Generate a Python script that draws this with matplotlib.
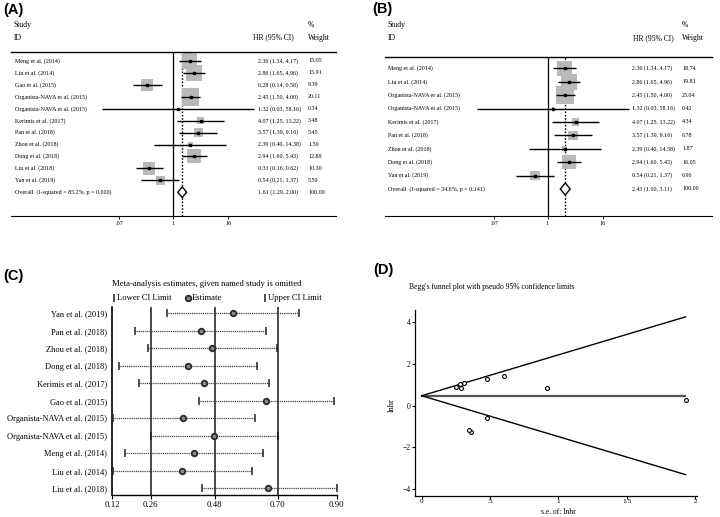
import numpy as np
import matplotlib
matplotlib.use("Agg")
import matplotlib.pyplot as plt
from matplotlib.patches import Polygon
from matplotlib.ticker import NullLocator
from matplotlib.transforms import blended_transform_factory

W, H = 720, 517
plt.rcParams["font.family"] = ["Liberation Serif", "DejaVu Serif"]
SANS = "Liberation Sans"

# ---- panel A: all studies
a_studies = ["Meng et al. (2014)", "Liu et al. (2014)", "Gao et al. (2015)",
             "Organista-NAVA et al. (2015)", "Organista-NAVA et al. (2015)",
             "Kerimis et al. (2017)", "Pan et al. (2018)", "Zhou et al. (2018)",
             "Dong et al. (2018)", "Liu et al. (2018)", "Yan et al. (2019)"]
a_hr = [2.36, 2.86, 0.28, 2.45, 1.32, 4.07, 3.57, 2.39, 2.94, 0.31, 0.54]
a_lo = [1.34, 1.65, 0.14, 1.50, 0.03, 1.25, 1.39, 0.40, 1.60, 0.16, 0.21]
a_hi = [4.17, 4.96, 0.58, 4.00, 58.16, 13.22, 9.16, 14.38, 5.43, 0.62, 1.37]
a_wt = [15.05, 15.91, 9.39, 20.11, 0.34, 3.48, 5.45, 1.50, 12.89, 10.30, 5.59]
a_overall = [1.61, 1.29, 2.00]
a_overall_label = "Overall  (I-squared = 85.2%, p = 0.000)"

# ---- panel B: without Gao 2015 and Liu 2018
b_studies = ["Meng et al. (2014)", "Liu et al. (2014)",
             "Organista-NAVA et al. (2015)", "Organista-NAVA et al. (2015)",
             "Kerimis et al. (2017)", "Pan et al. (2018)", "Zhou et al. (2018)",
             "Dong et al. (2018)", "Yan et al. (2019)"]
b_hr = [2.36, 2.86, 2.45, 1.32, 4.07, 3.57, 2.39, 2.94, 0.54]
b_lo = [1.34, 1.65, 1.50, 0.03, 1.25, 1.39, 0.40, 1.60, 0.21]
b_hi = [4.17, 4.96, 4.00, 58.16, 13.22, 9.16, 14.38, 5.43, 1.37]
b_wt = [18.74, 19.81, 25.04, 0.42, 4.34, 6.78, 1.87, 16.05, 6.96]
b_overall = [2.43, 1.90, 3.11]
b_overall_label = "Overall  (I-squared = 34.6%, p = 0.141)"

forest_ticks = [0.07, 1, 16]
forest_ticklabels = [".07", "1", "16"]

# ---- panel C: leave-one-out (ln HR)
c_studies = ["Yan et al. (2019)", "Pan et al. (2018)", "Zhou et al. (2018)",
             "Dong et al. (2018)", "Kerimis et al. (2017)", "Gao et al. (2015)",
             "Organista-NAVA et al. (2015)", "Organista-NAVA et al. (2015)",
             "Meng et al. (2014)", "Liu et al. (2014)", "Liu et al. (2018)"]
c_est = [0.538, 0.427, 0.467, 0.385, 0.440, 0.653, 0.367, 0.474, 0.404, 0.364, 0.661]
c_lo = [0.310, 0.201, 0.245, 0.147, 0.216, 0.423, 0.124, 0.258, 0.166, 0.126, 0.431]
c_hi = [0.766, 0.653, 0.689, 0.620, 0.664, 0.885, 0.615, 0.695, 0.643, 0.605, 0.896]
c_ticks = [0.123, 0.255, 0.476, 0.693, 0.896]
c_ticklabels = ["0.12", "0.26", "0.48", "0.70", "0.90"]

# ---- panel D: Begg's funnel
d_se = [0.290, 0.281, 0.363, 0.250, 1.931, 0.602, 0.481, 0.914, 0.312, 0.346, 0.479]
d_lnhr = [0.859, 1.051, -1.273, 0.896, 0.278, 1.404, 1.273, 0.871, 1.078, -1.171, -0.616]
d_funnel_se = [0.0, 1.93]
d_pooled = [0.476, 0.476]
d_upper = [0.476, 4.26]
d_lower = [0.476, -3.31]


def pxbox(l, t, r, b):
    return [l / W, 1 - b / H, (r - l) / W, (b - t) / H]


def forest(fig, geo, studies, hr, lo, hi, wt, overall, overall_label):
    l, r, t, b = geo["box"]
    row0, step = geo["row0"], geo["step"]
    ax = fig.add_axes(pxbox(l, t, r, b))
    ax.set_xscale("log")
    ax.set_xlim(np.exp(geo["ln"][0]), np.exp(geo["ln"][1]))
    n = len(studies)
    ys = np.arange(n)
    ax.set_ylim((b - row0) / step, (t - row0) / step)

    side_pt = geo["c"] * np.sqrt(wt) * 72 / 100
    ax.scatter(hr, ys, s=side_pt ** 2, marker="s", color="#b9b9b9", lw=0, zorder=2)
    ax.hlines(ys, lo, hi, color="black", lw=1.0, zorder=3)
    ax.plot(hr, ys, "s", ms=1.6, color="black", zorder=4)
    ax.axvline(1, color="black", lw=0.9, zorder=1)
    est, olo, ohi = overall
    ax.axvline(est, color="black", lw=1.0, ls=(0, (1.2, 1.2)), zorder=1)
    h = 0.45
    ax.add_patch(Polygon([(olo, n), (est, n - h), (ohi, n), (est, n + h)],
                         closed=True, facecolor="white", edgecolor="black", lw=1.0, zorder=5))

    for s in ("left", "right"):
        ax.spines[s].set_visible(False)
    ax.spines["top"].set_linewidth(1.0)
    ax.spines["bottom"].set_linewidth(0.8)
    ax.set_yticks([])
    ax.set_xticks(forest_ticks)
    ax.set_xticklabels(forest_ticklabels)
    ax.xaxis.set_minor_locator(NullLocator())
    ax.tick_params(axis="x", length=2, width=0.6, labelsize=4.5, pad=1.5)

    tr = blended_transform_factory(fig.transFigure, ax.transData)
    xl, xh, xw = geo["cols"]
    fs = 4.3
    for i in range(n):
        ax.text(xl / W, i, studies[i], transform=tr, fontsize=fs, va="center")
        ax.text(xh / W, i, f"{hr[i]:.2f} ({lo[i]:.2f}, {hi[i]:.2f})", transform=tr,
                fontsize=fs, va="center")
        ax.text(xw / W, i, f"{wt[i]:.2f}", transform=tr, fontsize=fs, va="center")
    ax.text(xl / W, n, overall_label, transform=tr, fontsize=fs, va="center")
    ax.text(xh / W, n, f"{est:.2f} ({olo:.2f}, {ohi:.2f})", transform=tr, fontsize=fs, va="center")
    ax.text(xw / W, n, "100.00", transform=tr, fontsize=fs, va="center")

    y_study = (geo["head"][0] - row0) / step
    y_id = (geo["head"][1] - row0) / step
    hs = 5.5
    ax.text(geo["hcols"][0] / W, y_study, "Study", transform=tr, fontsize=hs, va="center")
    ax.text(geo["hcols"][0] / W, y_id, "ID", transform=tr, fontsize=hs, va="center")
    ax.text(geo["hcols"][1] / W, y_id, "HR (95% CI)", transform=tr, fontsize=hs, va="center")
    ax.text(geo["hcols"][2] / W, y_study, "%", transform=tr, fontsize=hs, va="center")
    ax.text(geo["hcols"][2] / W, y_id, "Weight", transform=tr, fontsize=hs, va="center")
    return ax


fig = plt.figure(figsize=(7.2, 5.17), dpi=100)

geo_a = dict(box=(11, 336, 52.3, 216), row0=61, step=11.93, ln=(-8.065, 8.145),
             c=3.9, cols=(15, 258, 308), hcols=(14, 253, 308), head=(25, 37.5))
forest(fig, geo_a, a_studies, a_hr, a_lo, a_hi, a_wt, a_overall, a_overall_label)

geo_b = dict(box=(385, 712, 56.7, 215.7), row0=68.3, step=13.41, ln=(-8.125, 8.225),
             c=3.6, cols=(388, 632, 682), hcols=(388, 633, 682), head=(25, 38.3))
forest(fig, geo_b, b_studies, b_hr, b_lo, b_hi, b_wt, b_overall, b_overall_label)

# ---- panel C
axc = fig.add_axes(pxbox(112.3, 307, 336.7, 495))
ys = np.arange(len(c_studies))
axc.set_xlim(c_ticks[0], c_ticks[-1])
axc.set_ylim((495 - 313.3) / 17.5, (307 - 313.3) / 17.5)
for x in c_ticks[1:4]:
    axc.axvline(x, color="#2b2b2b", lw=1.2, zorder=1)
axc.hlines(ys, c_lo, c_hi, colors="#333333", lw=0.9, linestyles=(0, (0.8, 0.7)), zorder=2)
axc.plot(c_lo, ys, "|", ms=6, mew=1.1, color="#222222", zorder=3, clip_on=False)
axc.plot(c_hi, ys, "|", ms=6, mew=1.1, color="#222222", zorder=3, clip_on=False)
axc.plot(c_est, ys, "o", ms=4.0, mfc="#8a8a8a", mec="#2b2b2b", mew=1.3, zorder=4, clip_on=False)
for s in ("top", "right"):
    axc.spines[s].set_visible(False)
axc.spines["left"].set_linewidth(1.2)
axc.spines["bottom"].set_linewidth(1.0)
axc.set_yticks(ys)
axc.set_yticklabels(c_studies)
axc.tick_params(axis="y", length=0, pad=3.6, labelsize=6.0)
axc.set_xticks(c_ticks)
axc.set_xticklabels(c_ticklabels)
axc.tick_params(axis="x", length=3, width=0.8, labelsize=6.3, pad=1.5)

trc = blended_transform_factory(fig.transFigure, axc.transData)
y_leg = (298.3 - 313.3) / 17.5
fig.text(207 / W, 1 - 284 / H, "Meta-analysis estimates, given named study is omitted",
         fontsize=6.2, ha="center", va="center")
axc.plot([113.5 / W], [y_leg], "|", ms=6, mew=1.1, color="#222222", transform=trc, clip_on=False)
axc.text(117 / W, y_leg, "Lower CI Limit", transform=trc, fontsize=6.2, va="center")
axc.plot([188 / W], [y_leg], "o", ms=4.0, mfc="#8a8a8a", mec="#2b2b2b", mew=1.3,
         transform=trc, clip_on=False)
axc.text(191.5 / W, y_leg, "Estimate", transform=trc, fontsize=6.2, va="center")
axc.plot([264.5 / W], [y_leg], "|", ms=6, mew=1.1, color="#222222", transform=trc, clip_on=False)
axc.text(267.5 / W, y_leg, "Upper CI Limit", transform=trc, fontsize=6.2, va="center")

# ---- panel D
axd = fig.add_axes(pxbox(415, 310, 696.7, 496))
axd.set_xlim(-0.049, 2.012)
axd.set_ylim(-4.335, 4.59)
axd.plot(d_funnel_se, d_pooled, color="#555555", lw=1.6, zorder=1)
axd.plot(d_funnel_se, d_upper, color="black", lw=1.0, zorder=2)
axd.plot(d_funnel_se, d_lower, color="black", lw=1.0, zorder=2)
axd.plot(d_se, d_lnhr, "o", ms=2.8, mfc="white", mec="black", mew=0.8, zorder=3)
for s in ("top", "right"):
    axd.spines[s].set_visible(False)
axd.spines["left"].set_linewidth(0.9)
axd.spines["bottom"].set_linewidth(0.9)
axd.set_xticks([0, 0.5, 1, 1.5, 2])
axd.set_xticklabels(["0", ".5", "1", "1.5", "2"])
axd.set_yticks([-4, -2, 0, 2, 4])
axd.tick_params(axis="y", length=2.2, width=0.8, labelsize=5.5, pad=1.0)
axd.tick_params(axis="x", length=2.0, width=0.8, labelsize=5.3, pad=0.3)
fig.text(391.5 / W, 1 - 405 / H, "lnhr", fontsize=6, rotation=90, ha="center", va="center")
fig.text(558 / W, 1 - 512 / H, "s.e. of: lnhr", fontsize=5.5, ha="center", va="center")
fig.text(409 / W, 1 - 287 / H, "Begg's funnel plot with pseudo 95% confidence limits",
         fontsize=5.5, ha="left", va="center")

# panel letters
for x, y, lab in [(3, 10, "(A)"), (372, 9, "(B)"), (3, 276, "(C)"), (373, 270, "(D)")]:
    fig.text(x / W, 1 - y / H, lab, fontsize=10.5, fontweight="bold", family=SANS,
             ha="left", va="center")

fig.savefig("out.png", dpi=100)
